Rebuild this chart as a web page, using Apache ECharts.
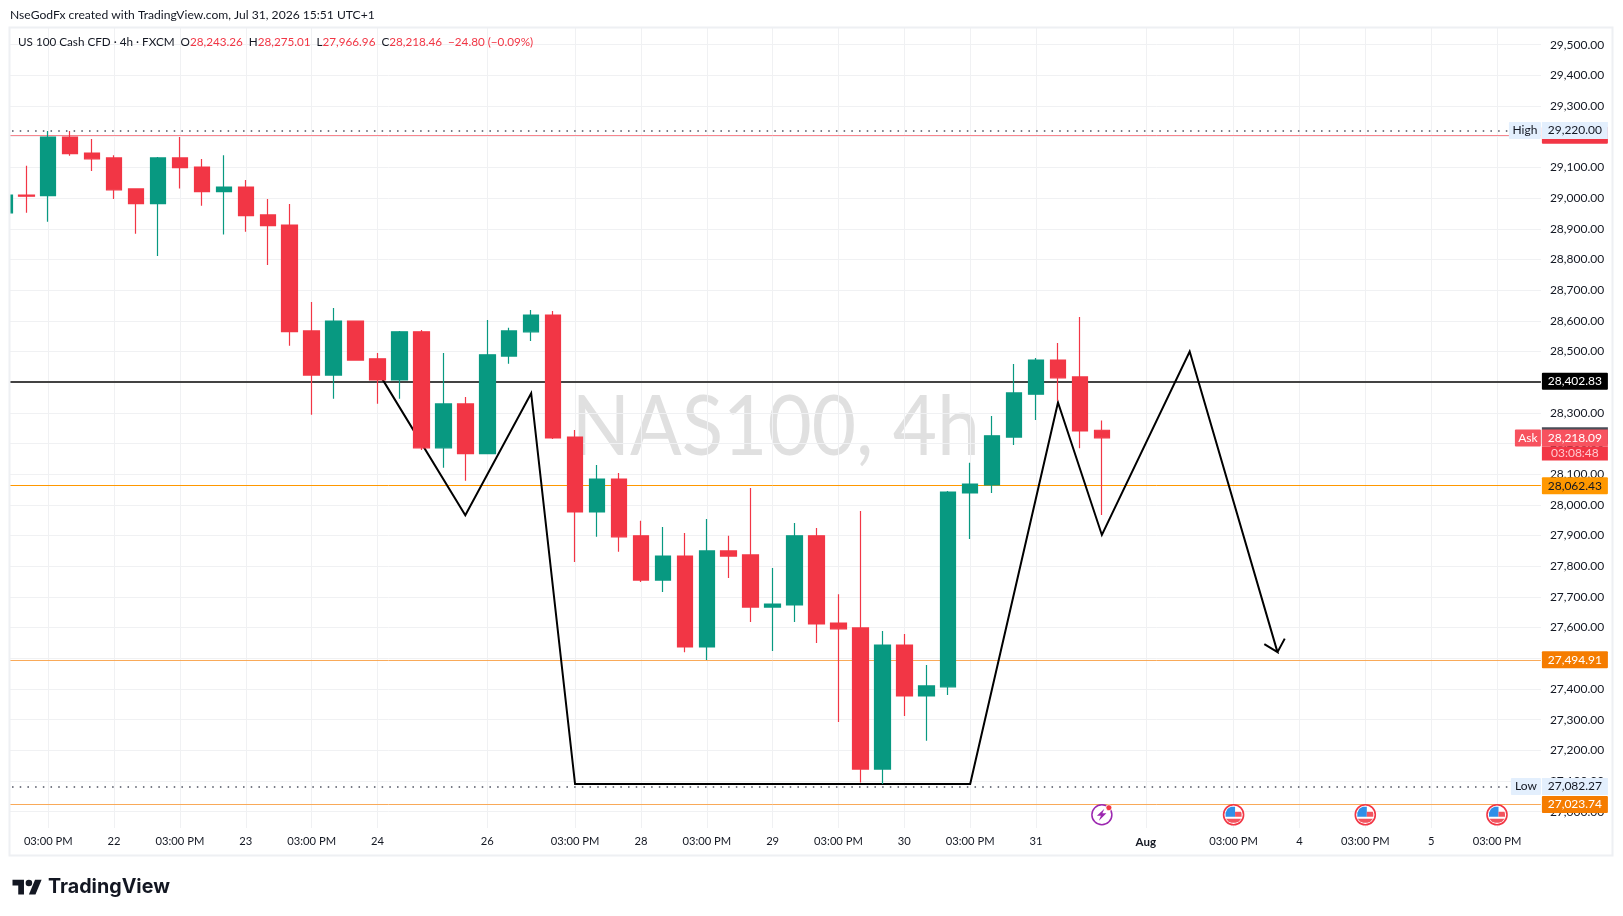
<!DOCTYPE html>
<html><head><meta charset="utf-8">
<style>html,body{margin:0;padding:0;background:#fff}#c{width:1623px;height:916px}</style>
<script src="https://cdn.jsdelivr.net/npm/echarts@6/dist/echarts.min.js"></script>
</head><body><div id="c"></div>
<script>
const FONT = 'Lato, "Open Sans", sans-serif';
const categories = ["","","03:00 PM","","","22","","","03:00 PM","","","23","","","03:00 PM","","","24","","","","","26","","","","03:00 PM","","","28","","","03:00 PM","","","29","","","03:00 PM","","","30","","","03:00 PM","","","31","","","","","Aug","","","","03:00 PM","","","4","","","03:00 PM","","","5","","","03:00 PM","",""];
const opens  = [28952,29010,29008,29199,29147,29131,29030,28982,29131,29101,29021,29036,28945,28912,28567,28423,28599,28476,28407,28564,28186,28329,28167,28485,28564,28619,28221,27977,28084,27899,27755,27833,27537,27850,27837,27667,27674,27899,27615,27599,27139,27543,27377,27407,28039,28065,28221,28361,28472,28417,28243.26];
const closes = [29010,29006,29199,29145,29128,29027,28982,29131,29099,29021,29036,28943,28910,28565,28423,28599,28472,28407,28564,28186,28329,28167,28489,28567,28619,28218,27977,28084,27896,27755,27833,27537,27850,27833,27667,27677,27899,27612,27596,27139,27543,27377,27410,28042,28068,28225,28365,28472,28414,28241,28218.46];
const lows   = [28952,28952,28923,29138,29088,28997,28884,28811,29031,28975,28881,28890,28782,28519,28294,28346,28472,28330,28346,28179,28121,28079,28167,28460,28534,28215,27814,27896,27847,27749,27716,27520,27494,27762,27618,27524,27618,27550,27292,27095,27090,27312,27231,27380,27889,28039,28195,28277,28339,28185,27966.96];
const highs  = [29010,29105,29219,29219,29193,29140,29030,29134,29199,29127,29140,29059,28997,28981,28661,28642,28599,28495,28567,28570,28495,28352,28603,28577,28635,28632,28244,28130,28104,27948,27928,27908,27954,27899,28055,27794,27941,27925,27709,27980,27589,27579,27478,28045,28137,28290,28459,28479,28528,28612,28275.01];
const yTicks = [27000,27100,27200,27300,27400,27500,27600,27700,27800,27900,28000,28100,28200,28300,28400,28500,28600,28700,28800,28900,29000,29100,29200,29300,29400,29500];
const zigzagK = [17,21,24,26,44,48,50,54,58,57.4,58,58.33];
const zigzagV = [28436,27966,28364,27090,27090,28334,27902,28500,27520,27546,27520,27564];
const highValue = 29220, lowValue = 27082.27, askValue = 28218.09;
const blackLevel = 28402.83, orangeLevelA = 28062.43, orangeLevelB = 27494.91, orangeLevelC = 27023.74, redLevel = 29205;
const eventK = [50,56,62,68];
const eventKind = ["bolt","us","us","us"];
const ICON_V = 26990;

const fmt = v => v.toLocaleString('en-US',{minimumFractionDigits:2,maximumFractionDigits:2});
const tag = (text,bg,fg) => ({
  show:true, position:'end', distance:1, formatter:'{a|'+text+'}',
  rich:{a:{width:66,height:17,lineHeight:17,align:'center',backgroundColor:bg,color:fg,fontFamily:FONT,fontSize:12,borderRadius:1}}
});
const lvl = (v,color,width,type,label) => ({
  yAxis:v, lineStyle:{color,width,type,opacity:1}, label
});
const side = (v,text,bg,fg,w) => ({
  coord:[categories.length-1,v], symbolSize:0,
  label:{show:true,position:'left',distance:0,formatter:'{a|'+text+'}',
    rich:{a:{width:w,height:17,lineHeight:17,align:'center',backgroundColor:bg,color:fg,fontFamily:FONT,fontSize:12,borderRadius:1}}}
});
const rightTag = (v,text,bg,fg,off) => ({
  coord:[categories.length-1,v], symbolSize:0,
  label:{show:true,position:'right',distance:1,offset:off||[0,0],formatter:text,
    rich:{a:{width:66,height:17,lineHeight:17,align:'center',backgroundColor:bg,color:fg,fontFamily:FONT,fontSize:12},
          b:{width:66,height:14,lineHeight:14,align:'center',backgroundColor:'#f23645',color:'#ffc9cf',fontFamily:FONT,fontSize:12}}}
});

function renderIcon(params, api){
  const p = api.coord([api.value(0), ICON_V]);
  const cx = p[0], cy = p[1];
  const kind = eventKind[params.dataIndex];
  const poly = (pts,fill) => ({type:'polygon',shape:{points:pts.map(q=>[cx+q[0],cy+q[1]])},style:{fill}});
  if(kind==='bolt'){
    return {type:'group',children:[
      {type:'circle',shape:{cx,cy,r:10},style:{fill:'#fff',stroke:'#9c27b0',lineWidth:1.5}},
      poly([[2.5,-6],[-5,1],[-1,1],[-3,6],[4.5,-1.5],[0.5,-1.5]],'#9c27b0'),
      {type:'circle',shape:{cx:cx+7,cy:cy-7,r:3},style:{fill:'#f23645',stroke:'#fff',lineWidth:0.8}}
    ]};
  }
  return {type:'group',children:[
    {type:'circle',shape:{cx,cy,r:10},style:{fill:'#fff',stroke:'#f23645',lineWidth:1.6}},
    poly([[-8,2],[-8,-2],[-6,-6],[-2.5,-8],[1.5,-8],[1.5,2]],'#2f8fe8'),
    poly([[1.5,-3],[7.5,-3],[8,-1],[8,2],[1.5,2]],'#f2545f'),
    poly([[-7.6,4],[7.6,4],[5,7],[2,8],[-2,8],[-5,7]],'#f2545f')
  ]};
}

const logoS = 0.82, logoX = 12.5, logoY = 876.5;
const logoPts = pts => pts.map(q=>[logoX+q[0]*logoS,logoY+q[1]*logoS]);

const chart = echarts.init(document.getElementById('c'),null,{renderer:'canvas'});
chart.setOption({
  animation:false,
  backgroundColor:'#fff',
  grid:{left:4.34,right:82.1,top:28,bottom:88,containLabel:false},
  xAxis:[
    {type:'category',data:categories,boundaryGap:false,
     axisLine:{show:false},axisTick:{show:false},
     splitLine:{show:true,interval:(i,v)=>v!=='',lineStyle:{color:'#f0f1f3',width:1}},
     axisLabel:{show:true,interval:0,margin:8,color:'#131722',fontFamily:FONT,fontSize:11.2,
       formatter:v=>v==='Aug'?'{b|Aug}':v,rich:{b:{fontWeight:'bold',color:'#131722',fontFamily:FONT,fontSize:11.5}}}},
    {type:'value',min:0,max:categories.length-1,show:false,splitLine:{show:false}}
  ],
  yAxis:{type:'value',position:'right',min:26946.8,max:29554.4,scale:true,
    axisLine:{show:false},
    axisTick:{show:false,customValues:yTicks},
    splitLine:{show:true,lineStyle:{color:'#f0f1f3',width:1}},
    axisLabel:{show:true,customValues:yTicks,margin:9,align:'left',padding:[0,0,2,0],color:'#131722',fontFamily:FONT,fontSize:12,formatter:fmt,hideOverlap:false}},
  series:[
    {type:'line',name:'levels',z:1,data:[],silent:true,
     markLine:{z:1,silent:true,symbol:'none',animation:false,data:[
       lvl(highValue,'#787b86',2,[1.5,6.2],{show:false}),
       lvl(redLevel,'#f7868f',1,'solid',tag(' ','#f23645','#f23645')),
       lvl(blackLevel,'#434343',2,'solid',tag(fmt(blackLevel),'#000','#fff')),
       lvl(orangeLevelA,'#ff9800',1,'solid',tag(fmt(orangeLevelA),'#ff9800','#131722')),
       lvl(orangeLevelB,'#f9aa59',1,'solid',tag(fmt(orangeLevelB),'#f57c00','#fff')),
       lvl(lowValue,'#787b86',2,[1.5,6.2],{show:false}),
       lvl(orangeLevelC,'#f9aa59',1,'solid',tag(fmt(orangeLevelC),'#f57c00','#fff'))
     ]}},
    {type:'line',name:'zigzag',xAxisIndex:1,yAxisIndex:0,z:1,silent:true,showSymbol:false,symbol:'none',
     data:zigzagK.map((k,i)=>[k,zigzagV[i]]),lineStyle:{color:'#000',width:2,join:'miter'}},
    {type:'candlestick',name:'NAS100',z:2,barWidth:16,silent:true,
     data:opens.map((o,i)=>[o,closes[i],lows[i],highs[i]]),
     itemStyle:{color:'#089981',color0:'#f23645',borderColor:'#089981',borderColor0:'#f23645',borderWidth:1.2}},
    {type:'line',name:'tags',z:10,data:[],silent:true,
     markPoint:{z:10,silent:true,animation:false,symbol:'circle',symbolSize:0,data:[
       rightTag(28225,'{a| }','#4a4e58','#fff'),
       rightTag(askValue,'{a|'+fmt(askValue)+'}\n{b|03:08:48}','#f7525f','#fff',[0,7]),
       side(askValue,'Ask','#f7525f','#fff',26),
       rightTag(highValue,'{a|'+fmt(highValue)+'}','#e3effd','#131722'),
       side(highValue,'High','#e3effd','#131722',32),
       rightTag(lowValue,'{a|'+fmt(lowValue)+'}','#e3effd','#131722'),
       side(lowValue,'Low','#e3effd','#131722',30)
     ]}},
    {type:'custom',name:'events',z:11,silent:true,clip:false,renderItem:renderIcon,
     encode:{x:0,y:1},data:eventK.map(k=>[k,ICON_V])}
  ],
  graphic:[
    {type:'text',z:0,silent:true,x:775.7,y:428,scaleX:0.92,style:{text:'NAS100, 4h',fill:'#e0e0e0',font:'83px Lato, sans-serif',textAlign:'center',textVerticalAlign:'middle'}},
    {type:'rect',z:100,silent:true,shape:{x:0,y:0,width:10,height:916},style:{fill:'#fff'}},
    {type:'rect',z:101,silent:true,shape:{x:9.5,y:27.5,width:1603,height:828},style:{fill:'none',stroke:'#eef0f3',lineWidth:2}},
    {type:'text',z:101,silent:true,x:10,y:15,style:{text:'NseGodFx created with TradingView.com, Jul 31, 2026 15:51 UTC+1',fill:'#131722',font:'12.1px '+FONT,textVerticalAlign:'middle'}},
    {type:'text',z:101,silent:true,x:18,y:42,style:{
      text:'{k|US 100 Cash CFD · 4h · FXCM  O}{r|28,243.26}{k|  H}{r|28,275.01}{k|  L}{r|27,966.96}{k|  C}{r|28,218.46}{r|  −24.80 (−0.09%)}',
      textVerticalAlign:'middle',
      rich:{k:{fill:'#131722',font:'11.7px '+FONT},r:{fill:'#f23645',font:'11.7px '+FONT}}}},
    {type:'polygon',z:101,silent:true,shape:{points:logoPts([[14,22],[7,22],[7,11],[0,11],[0,4],[14,4]])},style:{fill:'#131722'}},
    {type:'polygon',z:101,silent:true,shape:{points:logoPts([[28,22],[20,22],[27.5,4],[35.5,4]])},style:{fill:'#131722'}},
    {type:'circle',z:101,silent:true,shape:{cx:logoX+20*logoS,cy:logoY+8*logoS,r:4*logoS},style:{fill:'#131722'}},
    {type:'text',z:101,silent:true,x:48,y:887,style:{text:'TradingView',fill:'#131722',font:'bold 19.7px Inter, Lato, sans-serif',textVerticalAlign:'middle'}}
  ]
});
</script></body></html>
